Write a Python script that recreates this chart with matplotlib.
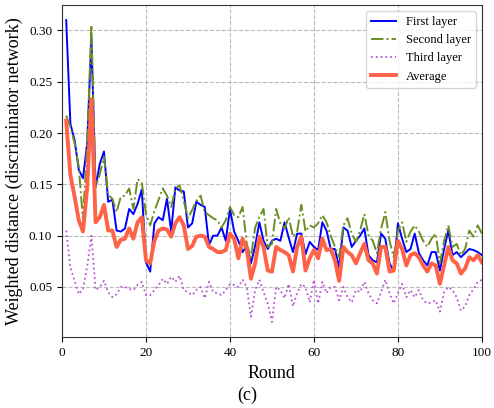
import numpy as np
import matplotlib
matplotlib.use("Agg")
import matplotlib.pyplot as plt

plt.rcParams['font.family'] = ['Liberation Serif', 'DejaVu Serif']

rounds = np.arange(1, 101)

first_layer = [0.310, 0.209, 0.193, 0.164, 0.156, 0.190, 0.292, 0.147, 0.170, 0.182,
               0.133, 0.135, 0.105, 0.104, 0.107, 0.126, 0.121, 0.131, 0.145, 0.074,
               0.065, 0.112, 0.118, 0.115, 0.136, 0.104, 0.147, 0.144, 0.143, 0.108,
               0.112, 0.133, 0.130, 0.128, 0.091, 0.100, 0.100, 0.108, 0.095, 0.126,
               0.104, 0.095, 0.084, 0.090, 0.073, 0.090, 0.113, 0.095, 0.087, 0.095,
               0.097, 0.095, 0.113, 0.098, 0.084, 0.102, 0.102, 0.082, 0.094, 0.089,
               0.086, 0.113, 0.105, 0.087, 0.087, 0.069, 0.108, 0.105, 0.089, 0.095,
               0.100, 0.107, 0.081, 0.076, 0.074, 0.102, 0.097, 0.073, 0.066, 0.112,
               0.097, 0.084, 0.087, 0.102, 0.083, 0.076, 0.071, 0.084, 0.084, 0.066,
               0.087, 0.105, 0.081, 0.084, 0.079, 0.083, 0.087, 0.086, 0.084, 0.081]

second_layer = [0.217, 0.206, 0.190, 0.167, 0.115, 0.190, 0.305, 0.147, 0.160, 0.177,
                0.140, 0.136, 0.123, 0.138, 0.139, 0.146, 0.126, 0.155, 0.152, 0.121,
                0.110, 0.124, 0.135, 0.146, 0.139, 0.128, 0.146, 0.149, 0.134, 0.117,
                0.125, 0.134, 0.139, 0.123, 0.120, 0.117, 0.115, 0.108, 0.115, 0.128,
                0.120, 0.118, 0.128, 0.092, 0.079, 0.108, 0.118, 0.126, 0.089, 0.092,
                0.126, 0.112, 0.107, 0.118, 0.099, 0.104, 0.130, 0.104, 0.110, 0.108,
                0.112, 0.120, 0.113, 0.100, 0.089, 0.079, 0.110, 0.117, 0.102, 0.094,
                0.105, 0.121, 0.100, 0.095, 0.083, 0.107, 0.123, 0.095, 0.079, 0.105,
                0.113, 0.094, 0.104, 0.110, 0.104, 0.095, 0.089, 0.097, 0.102, 0.073,
                0.095, 0.110, 0.089, 0.092, 0.081, 0.087, 0.105, 0.099, 0.110, 0.102]

third_layer = [0.105, 0.069, 0.056, 0.043, 0.048, 0.070, 0.100, 0.047, 0.050, 0.056,
               0.045, 0.040, 0.043, 0.050, 0.050, 0.048, 0.047, 0.052, 0.055, 0.042,
               0.042, 0.047, 0.052, 0.058, 0.053, 0.060, 0.055, 0.061, 0.047, 0.045,
               0.042, 0.047, 0.050, 0.039, 0.055, 0.045, 0.044, 0.042, 0.047, 0.053,
               0.052, 0.050, 0.057, 0.050, 0.021, 0.047, 0.057, 0.045, 0.034, 0.016,
               0.050, 0.047, 0.039, 0.053, 0.031, 0.044, 0.053, 0.050, 0.035, 0.057,
               0.034, 0.055, 0.044, 0.050, 0.050, 0.037, 0.050, 0.040, 0.035, 0.047,
               0.045, 0.055, 0.044, 0.037, 0.034, 0.045, 0.057, 0.044, 0.034, 0.044,
               0.053, 0.040, 0.047, 0.040, 0.047, 0.037, 0.034, 0.035, 0.037, 0.026,
               0.045, 0.050, 0.047, 0.040, 0.027, 0.031, 0.042, 0.048, 0.055, 0.057]

average = [0.212, 0.159, 0.138, 0.115, 0.104, 0.147, 0.233, 0.113, 0.118, 0.130,
           0.105, 0.105, 0.089, 0.096, 0.097, 0.107, 0.097, 0.113, 0.118, 0.076,
           0.073, 0.095, 0.105, 0.107, 0.106, 0.099, 0.112, 0.118, 0.110, 0.087,
           0.090, 0.099, 0.100, 0.099, 0.089, 0.087, 0.084, 0.084, 0.086, 0.102,
           0.097, 0.078, 0.097, 0.087, 0.058, 0.073, 0.099, 0.089, 0.066, 0.065,
           0.089, 0.086, 0.084, 0.081, 0.065, 0.089, 0.099, 0.066, 0.078, 0.086,
           0.078, 0.097, 0.086, 0.087, 0.076, 0.056, 0.089, 0.084, 0.081, 0.073,
           0.083, 0.092, 0.076, 0.073, 0.063, 0.089, 0.089, 0.065, 0.066, 0.095,
           0.087, 0.071, 0.081, 0.083, 0.079, 0.071, 0.065, 0.073, 0.071, 0.053,
           0.071, 0.089, 0.076, 0.073, 0.063, 0.068, 0.079, 0.076, 0.081, 0.074]

fig = plt.figure(figsize=(4.94, 4.08), dpi=100)
ax = fig.add_axes([0.1255, 0.1733, 0.850, 0.8152])

ax.plot(rounds, first_layer, color='blue', ls='-', lw=1.4, label='First layer')
ax.plot(rounds, second_layer, color='olivedrab', ls='-.', lw=1.4, label='Second layer')
ax.plot(rounds, third_layer, color='mediumorchid', ls=':', lw=1.3, label='Third layer')
ax.plot(rounds, average, color='tomato', ls='-', lw=2.8, label='Average')

ax.set_xlim(0, 100)
ax.set_ylim(0.001, 0.325)
ax.set_xticks([0, 20, 40, 60, 80, 100])
ax.set_yticks([0.05, 0.10, 0.15, 0.20, 0.25, 0.30])
ax.set_yticklabels(['0.05', '0.10', '0.15', '0.20', '0.25', '0.30'])
ax.tick_params(labelsize=9.5)
ax.grid(True, ls='--', color='#bbbbbb', lw=0.8)
for s in ax.spines.values():
    s.set_color('#333333')

ax.set_xlabel('Round', fontsize=13)
ax.set_ylabel('Weighted distance (discriminator network)', fontsize=13)
ax.legend(loc='upper right', fontsize=9)
fig.text(0.5, 0.032, '(c)', ha='center', va='center', fontsize=13)

fig.savefig('out.png', dpi=100)
